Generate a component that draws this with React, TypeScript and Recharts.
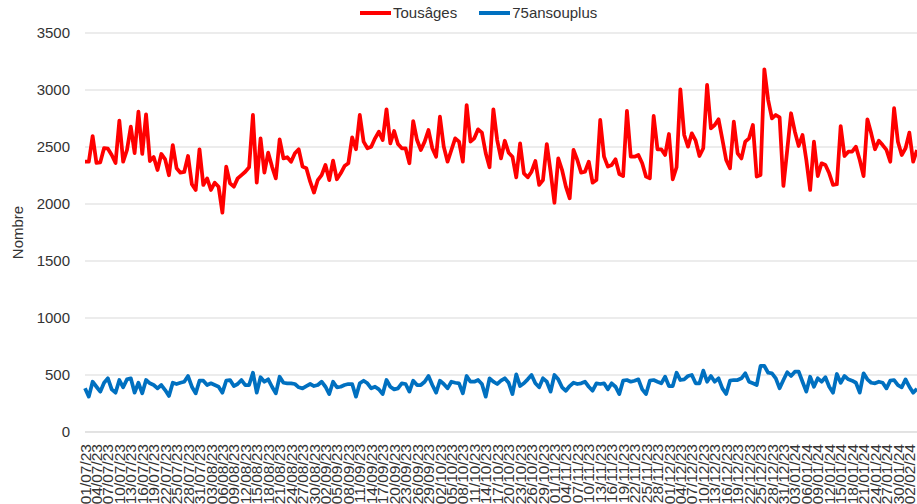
import { LineChart, Line, XAxis, YAxis, CartesianGrid, Legend } from 'recharts'

// Daily counts, one value per day starting 01/07/23
const startDate = '2023-07-01'

const tousAges = [
  2371, 2371, 2596, 2360, 2365, 2491, 2485, 2430, 2360, 2731,
  2371, 2474, 2678, 2447, 2810, 2439, 2787, 2377, 2412, 2298,
  2439, 2392, 2252, 2517, 2313, 2275, 2281, 2421, 2173, 2123,
  2480, 2167, 2225, 2123, 2187, 2152, 1924, 2328, 2181, 2152,
  2225, 2254, 2283, 2322, 2781, 2187, 2576, 2275, 2450, 2328,
  2225, 2567, 2400, 2410, 2371, 2445, 2480, 2328, 2313, 2196,
  2100, 2210, 2254, 2342, 2210, 2380, 2217, 2269, 2333, 2357,
  2585, 2480, 2781,
  2547, 2489, 2503, 2576, 2634, 2561, 2831, 2532, 2640, 2526,
  2489, 2489, 2357, 2728, 2561, 2474, 2547, 2649, 2489, 2415,
  2766, 2503, 2371, 2474, 2576, 2547, 2371, 2868, 2547, 2576,
  2655, 2626, 2445, 2322, 2831, 2561, 2400, 2555, 2450, 2415,
  2234, 2532, 2269, 2234, 2283, 2377, 2167, 2210, 2526, 2283,
  2011, 2400, 2298, 2152, 2050, 2474, 2386, 2275, 2283, 2371,
  2187, 2210, 2737, 2415, 2328, 2342, 2392, 2263, 2245, 2816,
  2415, 2415, 2430,
  2357, 2240, 2225, 2772, 2480, 2480, 2430, 2614, 2217, 2322,
  3006, 2605, 2503, 2620, 2555, 2421, 2489, 3044, 2664, 2693,
  2743, 2567, 2386, 2313, 2722, 2445, 2400, 2547, 2576, 2693,
  2240, 2254, 3182, 2912, 2751, 2781, 2760, 2158, 2474, 2796,
  2634, 2509, 2605, 2386, 2123, 2547, 2245, 2357, 2342, 2269,
  2167, 2173, 2684, 2421, 2459, 2459, 2503, 2386, 2245, 2743,
  2620, 2480, 2555, 2517, 2474, 2371, 2840, 2547, 2430, 2489,
  2626, 2371, 2474,
]

const ansOuPlus75 = [
  383, 310, 441, 397, 354, 432, 471, 374, 345, 456,
  392, 462, 471, 345, 432, 339, 456, 427, 412, 383,
  412, 368, 316, 432, 421, 432, 441, 491, 397, 339,
  450, 450, 412, 427, 412, 397, 345, 450, 456, 403,
  421, 456, 412, 412, 520, 345, 480, 441, 462, 397,
  339, 485, 432, 427, 427, 421, 392, 383, 403, 421,
  403, 412, 441, 397, 333, 441, 392, 397, 412, 421,
  421, 310, 427, 450, 427, 383, 397, 374, 333, 456,
  397, 374, 383, 427, 421, 354, 450, 412, 412, 441,
  491, 412, 345, 450, 421, 383, 441, 432, 427, 339,
  491, 441, 441, 456, 421, 310, 471, 441,
  421, 450, 471, 432, 333, 506, 403, 427, 462, 500,
  427, 392, 471, 441, 354, 500, 462, 392, 362, 403,
  432, 421, 427, 441, 397, 362, 427, 421, 427, 374,
  427, 397, 333, 450, 456, 441, 450, 462, 374, 333,
  450, 456, 441, 427, 485, 403, 403, 520, 456, 462,
  491, 500, 427, 427, 538, 441, 491, 441, 471, 383,
  333, 450, 456, 456, 471, 515, 441, 427, 412, 579,
  579, 520, 515, 471, 383, 456, 524, 491, 529, 529,
  441, 354, 485, 397, 471, 441, 480, 397, 345, 509,
  432, 491, 462, 450, 432, 345, 515, 462, 432, 427,
  441, 432, 383, 450, 456, 412, 392, 462, 397, 345,
  380,
]

const yTicks = [0, 500, 1000, 1500, 2000, 2500, 3000, 3500]
const seriesNames = ['Tousâges', '75ansouplus']
const seriesColors = ['#FF0000', '#0070C0']

const FONT = '"Liberation Sans", Arial, sans-serif'
const TEXT = '#333333'

// dd/mm/yy labels for each day
function buildDates(start: string, n: number): string[] {
  const d0 = new Date(start + 'T00:00:00Z')
  const out: string[] = []
  for (let i = 0; i < n; i++) {
    const d = new Date(d0.getTime() + i * 86400000)
    const dd = String(d.getUTCDate()).padStart(2, '0')
    const mm = String(d.getUTCMonth() + 1).padStart(2, '0')
    const yy = String(d.getUTCFullYear() % 100).padStart(2, '0')
    out.push(`${dd}/${mm}/${yy}`)
  }
  return out
}

const dates = buildDates(startDate, tousAges.length)
const data = dates.map((date, i) => ({
  date,
  tous: tousAges[i],
  plus75: ansOuPlus75[i],
}))

function DateTick({ x, y, payload }: any) {
  return (
    <g transform={`translate(${x},${y})`}>
      <text
        x={-4}
        y={0}
        dy="0.36em"
        textAnchor="end"
        transform="rotate(-90)"
        fontSize={15.5}
        fontFamily={FONT}
        fill={TEXT}
      >
        {payload.value}
      </text>
    </g>
  )
}

function LegendContent() {
  return (
    <div style={{ display: 'flex', alignItems: 'center', paddingLeft: 360, fontFamily: FONT, fontSize: 15, color: TEXT }}>
      {seriesNames.map((name, i) => (
        <div key={name} style={{ display: 'flex', alignItems: 'center', marginRight: 22 }}>
          <span style={{ width: 31, height: 4, background: seriesColors[i], display: 'inline-block' }} />
          <span style={{ marginLeft: 2 }}>{name}</span>
        </div>
      ))}
    </div>
  )
}

export default function App() {
  return (
    <div style={{ position: 'fixed', left: 0, top: 0, width: 917, height: 504, overflow: 'hidden', background: '#fff' }}>
      <LineChart width={918} height={512} data={data} margin={{ top: 33, right: 1, bottom: 0, left: 0 }}>
        <CartesianGrid vertical={false} stroke="#d9d9d9" strokeWidth={1} />
        <XAxis
          dataKey="date"
          interval={2}
          tick={<DateTick />}
          tickLine={false}
          axisLine={{ stroke: '#d9d9d9' }}
          height={80}
        />
        <YAxis
          domain={[0, 3500]}
          ticks={yTicks}
          width={85}
          axisLine={false}
          tickLine={false}
          tickSize={0}
          tickMargin={15}
          tick={{ fontSize: 15, fontFamily: FONT, fill: TEXT }}
          label={{
            value: 'Nombre',
            angle: -90,
            position: 'insideLeft',
            offset: 18,
            style: { textAnchor: 'middle', fontSize: 15, fontFamily: FONT, fill: TEXT },
          }}
        />
        <Legend
          verticalAlign="middle"
          align="center"
          layout="horizontal"
          content={<LegendContent />}
          wrapperStyle={{ top: 4, left: 0, width: 917 }}
        />
        <Line
          type="linear"
          dataKey="tous"
          name={seriesNames[0]}
          stroke={seriesColors[0]}
          strokeWidth={3.75}
          strokeLinejoin="round"
          dot={false}
          isAnimationActive={false}
        />
        <Line
          type="linear"
          dataKey="plus75"
          name={seriesNames[1]}
          stroke={seriesColors[1]}
          strokeWidth={3.75}
          strokeLinejoin="round"
          dot={false}
          isAnimationActive={false}
        />
      </LineChart>
    </div>
  )
}
